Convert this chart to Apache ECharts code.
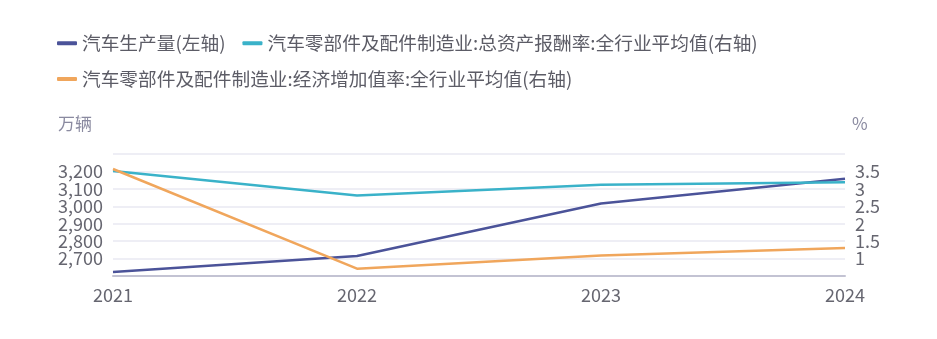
<!DOCTYPE html>
<html><head><meta charset="utf-8">
<script src="https://cdn.jsdelivr.net/npm/echarts@6/dist/echarts.min.js"></script>
<style>html,body{margin:0;padding:0;background:#fff}#c{width:937px;height:339px}</style>
</head><body><div id="c"></div>
<script>
const years = ['2021','2022','2023','2024'];
const production = [2623, 2715, 3016, 3158];
const roaRate = [3.51, 2.81, 3.12, 3.19];
const evaRate = [3.57, 0.71, 1.09, 1.30];
const names = ['汽车生产量(左轴)','汽车零部件及配件制造业:总资产报酬率:全行业平均值(右轴)','汽车零部件及配件制造业:经济增加值率:全行业平均值(右轴)'];
const colors = ['#4b5399','#3ab2c9','#f0a65c'];
const FONT = '"Noto Sans CJK SC", "Noto Sans", sans-serif';
const chart = echarts.init(document.getElementById('c'));
chart.setOption({
  animation:false,
  color: colors,
  textStyle:{fontFamily:FONT},
  legend:{
    left:52, top:29, width:760, itemGap:17, itemWidth:20, itemHeight:4, itemTextGap:6,
    icon:'roundRect',
    textStyle:{fontSize:18.7,color:'#5c5c66',fontFamily:FONT},
    data: names
  },
  grid:{left:113, right:92, top:154, bottom:63, containLabel:false},
  xAxis:{
    type:'category', data:years, boundaryGap:false,
    axisLine:{lineStyle:{color:'#c3c3d3',width:2}},
    axisTick:{show:false},
    axisLabel:{fontSize:18,color:'#666670',margin:10,fontFamily:FONT}
  },
  yAxis:[
    {type:'value', name:'万辆', min:2600, max:3300, interval:100,
     nameTextStyle:{color:'#8a8aa0',fontSize:17,align:'right',padding:[0,21,0,0]},
     nameGap:22,
     axisLine:{show:false}, axisTick:{show:false},
     splitLine:{lineStyle:{color:'#e8e9f2',width:1.5}},
     axisLabel:{fontSize:18,color:'#666670',margin:10,showMinLabel:false,showMaxLabel:false,
       formatter:v=>v.toLocaleString('en-US')}},
    {type:'value', name:'%', min:0.5, max:4, interval:0.5,
     nameTextStyle:{color:'#8a8aa0',fontSize:17,align:'left',padding:[0,0,0,7]},
     nameGap:22,
     axisLine:{show:false}, axisTick:{show:false},
     splitLine:{show:false},
     axisLabel:{fontSize:18,color:'#666670',margin:10,showMinLabel:false,showMaxLabel:false}}
  ],
  series:[
    {name:names[0],type:'line',yAxisIndex:0,data:production,showSymbol:false,lineStyle:{width:2.5}},
    {name:names[1],type:'line',yAxisIndex:1,data:roaRate,showSymbol:false,lineStyle:{width:2.5}},
    {name:names[2],type:'line',yAxisIndex:1,data:evaRate,showSymbol:false,lineStyle:{width:2.5}}
  ]
});
</script></body></html>
